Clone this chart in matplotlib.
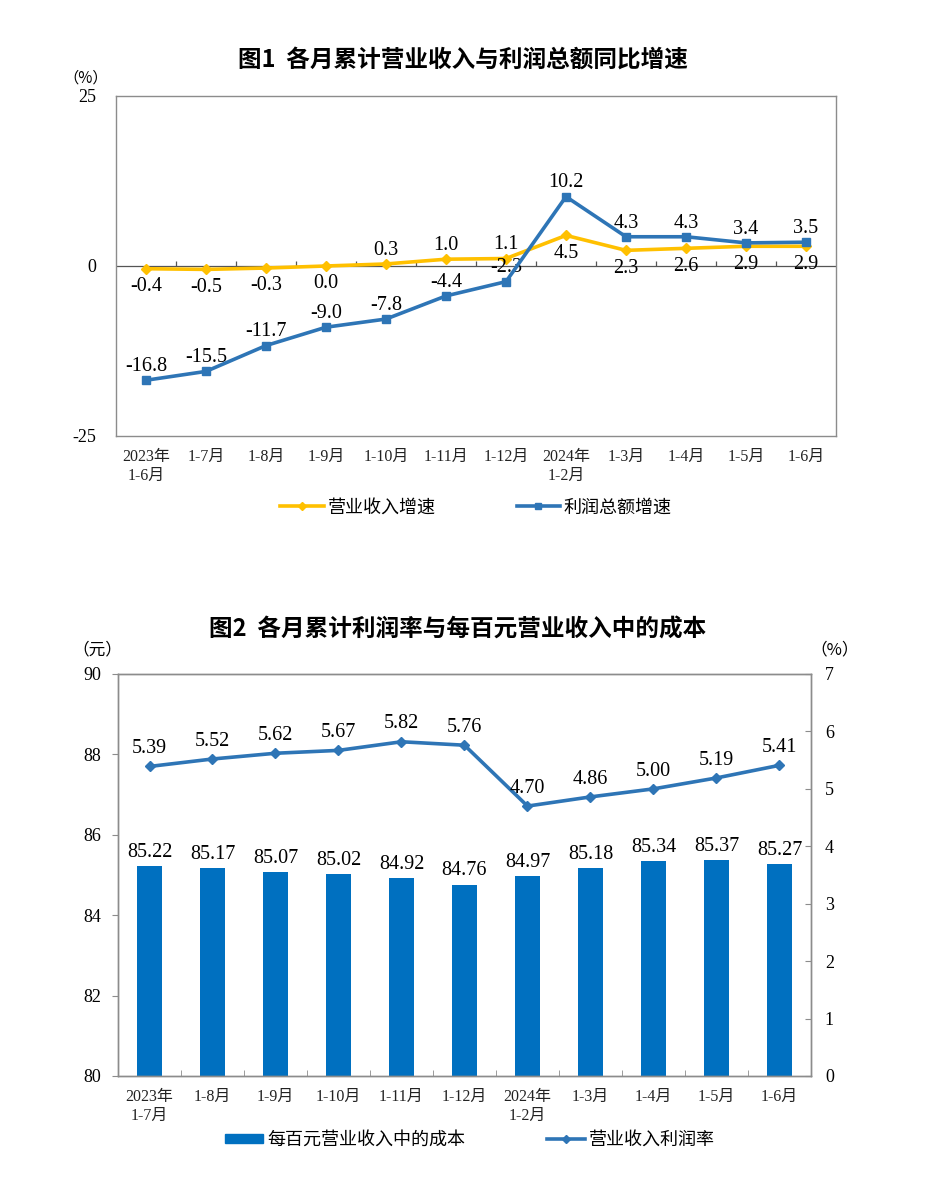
import numpy as np
import matplotlib.pyplot as plt
from matplotlib.lines import Line2D
from matplotlib.patches import Patch

# chart 1 data
months_1 = ['2023年\n1-6月', '1-7月', '1-8月', '1-9月', '1-10月', '1-11月', '1-12月',
            '2024年\n1-2月', '1-3月', '1-4月', '1-5月', '1-6月']
revenue_growth = [-0.4, -0.5, -0.3, 0.0, 0.3, 1.0, 1.1, 4.5, 2.3, 2.6, 2.9, 2.9]
profit_growth = [-16.8, -15.5, -11.7, -9.0, -7.8, -4.4, -2.3, 10.2, 4.3, 4.3, 3.4, 3.5]
revenue_label_below = [True, True, True, True, False, False, False, True, True, True, True, True]

# chart 2 data
months_2 = ['2023年\n1-7月', '1-8月', '1-9月', '1-10月', '1-11月', '1-12月',
            '2024年\n1-2月', '1-3月', '1-4月', '1-5月', '1-6月']
cost_per_100 = [85.22, 85.17, 85.07, 85.02, 84.92, 84.76, 84.97, 85.18, 85.34, 85.37, 85.27]
profit_rate = [5.39, 5.52, 5.62, 5.67, 5.82, 5.76, 4.70, 4.86, 5.00, 5.19, 5.41]

FONTS = ['Liberation Serif', 'Noto Sans CJK SC', 'DejaVu Sans']
CJK = ['Noto Sans CJK SC', 'DejaVu Sans']
YELLOW = '#FFC000'
BLUE = '#2E75B6'
BAR = '#0070C0'
FRAME = '#8c8c8c'
LABEL_SIZE = 14.5

plt.rcParams['font.family'] = FONTS


def style_frame(ax):
    for s in ax.spines.values():
        s.set_color(FRAME)
        s.set_linewidth(1.0)


def growth_chart(fig):
    ax = fig.add_axes([116 / 927, 1 - 436 / 1186, 720 / 927, 340 / 1186])
    x = np.arange(len(months_1))
    style_frame(ax)
    ax.set_xlim(-0.5, len(months_1) - 0.5)
    ax.set_ylim(-25, 25)
    ax.set_yticks([-25, 0, 25])
    ax.set_yticklabels(['-25', '0', '25'], fontsize=13)
    ax.tick_params(axis='y', length=0, pad=14)
    ax.set_xticks(x)
    ax.set_xticklabels(months_1, fontsize=11.5, linespacing=1.25)
    ax.tick_params(axis='x', length=0, pad=9, colors='#222222')

    # zero line with small category separators
    ax.axhline(0, color='#555555', lw=0.9, zorder=1)
    ax.vlines(x[:-1] + 0.5, 0, 0.7, color='#555555', lw=0.9, zorder=1)

    ax.plot(x, revenue_growth, color=YELLOW, lw=2.6, marker='D', ms=5.5, zorder=3)
    ax.plot(x, profit_growth, color=BLUE, lw=2.6, marker='s', ms=5.5, zorder=4)

    for xi, v, below in zip(x, revenue_growth, revenue_label_below):
        if below:
            ax.annotate(f'{v:.1f}', (xi, v), xytext=(0, -6), textcoords='offset points',
                        ha='center', va='top', fontsize=LABEL_SIZE)
        else:
            ax.annotate(f'{v:.1f}', (xi, v), xytext=(0, 3), textcoords='offset points',
                        ha='center', va='bottom', fontsize=LABEL_SIZE)
    for xi, v in zip(x, profit_growth):
        ax.annotate(f'{v:.1f}', (xi, v), xytext=(0, 3), textcoords='offset points',
                    ha='center', va='bottom', fontsize=LABEL_SIZE)

    handles = [Line2D([0], [0], color=YELLOW, lw=2.6, marker='D', ms=4),
               Line2D([0], [0], color=BLUE, lw=2.6, marker='s', ms=4)]
    ax.legend(handles, ['营业收入增速', '利润总额增速'], loc='center', bbox_to_anchor=(0.5, -0.21),
              ncol=2, frameon=False, prop={'family': CJK, 'size': 13}, handlelength=2.4,
              handletextpad=0.2, columnspacing=4.5)

    fig.text(463 / 927, 1 - 60 / 1186, '图1  各月累计营业收入与利润总额同比增速', ha='center', va='center',
             fontsize=17, fontweight='bold', family=CJK)
    fig.text(86 / 927, 1 - 78 / 1186, '（%）', ha='center', va='center', fontsize=11, family=CJK)


def cost_chart(fig):
    ax = fig.add_axes([118 / 927, 1 - 1076 / 1186, 693 / 927, 402 / 1186])
    x = np.arange(len(months_2))
    style_frame(ax)
    ax.set_xlim(-0.5, len(months_2) - 0.5)
    ax.set_ylim(80, 90)
    ax.set_yticks(np.arange(80, 91, 2))
    ax.tick_params(axis='y', labelsize=13, length=4, direction='out', color=FRAME, pad=8)
    ax.set_xticks(x)
    ax.set_xticklabels(months_2, fontsize=11.5, linespacing=1.25)
    ax.set_xticks(x[:-1] + 0.5, minor=True)
    ax.tick_params(axis='x', which='major', length=0, pad=9, colors='#222222')
    ax.tick_params(axis='x', which='minor', length=4, direction='in', color=FRAME)

    ax.bar(x, np.array(cost_per_100) - 80, bottom=80, width=0.41, color=BAR, zorder=2)
    for xi, v in zip(x, cost_per_100):
        ax.annotate(f'{v:.2f}', (xi, v), xytext=(0, 3), textcoords='offset points',
                    ha='center', va='bottom', fontsize=LABEL_SIZE)

    ax2 = ax.twinx()
    style_frame(ax2)
    ax2.set_ylim(0, 7)
    ax2.set_yticks(np.arange(0, 8, 1))
    ax2.tick_params(axis='y', labelsize=13, length=4, direction='in', color=FRAME, pad=10)
    ax2.plot(x, profit_rate, color=BLUE, lw=2.6, marker='D', ms=5.5, zorder=3)
    for xi, v in zip(x, profit_rate):
        ax2.annotate(f'{v:.2f}', (xi, v), xytext=(0, 6), textcoords='offset points',
                     ha='center', va='bottom', fontsize=LABEL_SIZE)

    handles = [Patch(color=BAR), Line2D([0], [0], color=BLUE, lw=2.6, marker='D', ms=4)]
    ax2.legend(handles, ['每百元营业收入中的成本', '营业收入利润率'], loc='center',
               bbox_to_anchor=(0.508, -0.159), ncol=2, frameon=False,
               prop={'family': CJK, 'size': 13}, handlelength=2.1, handleheight=0.45,
               handletextpad=0.25, columnspacing=4.5)

    fig.text(458 / 927, 1 - 630 / 1186, '图2  各月累计利润率与每百元营业收入中的成本', ha='center', va='center',
             fontsize=17, fontweight='bold', family=CJK)
    fig.text(97 / 927, 1 - 650 / 1186, '（元）', ha='center', va='center', fontsize=12, family=CJK)
    fig.text(835 / 927, 1 - 650 / 1186, '（%）', ha='center', va='center', fontsize=12, family=CJK)


if __name__ == "__main__":
    fig = plt.figure(figsize=(9.27, 11.86), dpi=100)
    growth_chart(fig)
    cost_chart(fig)
    fig.savefig('out.png', dpi=100)
